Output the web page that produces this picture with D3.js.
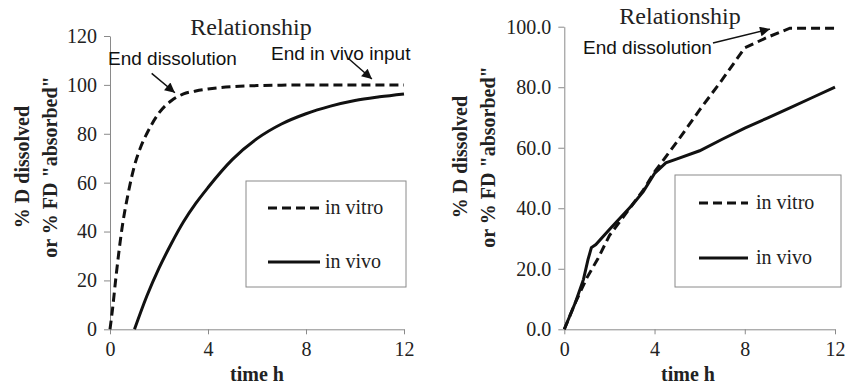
<!DOCTYPE html>
<html>
<head>
<meta charset="utf-8">
<script src="https://cdn.jsdelivr.net/npm/d3@7"></script>
<style>
  body { margin: 0; background: #fff; }
  svg { display: block; }
  .axis path, .axis line { stroke: #8a8a8a; stroke-width: 1; }
</style>
</head>
<body>
<svg id="chart" width="845" height="386"></svg>
<script>
// left panel: smooth profiles
const leftVitroT = [0, 0.1, 0.25, 0.5, 0.75, 1, 1.25, 1.5, 2, 2.5, 3, 3.5, 4, 5, 6, 7, 8, 10, 12];
const leftVitroY = [0, 8, 22, 42, 56, 67, 74.5, 80, 88.5, 93.5, 96.3, 97.5, 98.3, 99.3, 99.7, 99.9, 100, 100, 100];
const leftVivoT = [1, 1.5, 2, 2.5, 3, 3.5, 4, 5, 6, 7, 8, 9, 10, 11, 12];
const leftVivoY = [0, 13.5, 25, 35, 44, 51.5, 58, 69.5, 78, 84, 88.2, 91.3, 93.6, 95.1, 96.3];

// right panel: piecewise profiles
const rightVitroT = [0, 0.5, 1, 1.5, 2, 2.5, 3, 3.5, 4, 5, 6, 7, 8, 9, 10, 11, 12];
const rightVitroY = [0, 9, 17, 23.5, 31, 36, 41, 46, 52, 62, 72.5, 82.5, 93, 96.5, 99.5, 99.5, 99.5];
const rightVivoT = [0, 0.5, 0.85, 1.05, 1.2, 1.4, 2, 3, 3.5, 4, 4.5, 5, 6, 7, 8, 9, 10, 11, 12];
const rightVivoY = [0, 9, 16.5, 23, 27, 28, 33, 41, 45.5, 51.5, 55, 56.3, 59, 62.8, 66.5, 69.8, 73.2, 76.6, 80];

const xTicks = [0, 4, 8, 12];
const leftYTicks = [0, 20, 40, 60, 80, 100, 120];
const rightYTicks = [0, 20, 40, 60, 80, 100];
const legendLabels = ["in vitro", "in vivo"];

// annotation arrows in data units: [tailT, tailY, headT, headY]
const leftArrows = [[1.70, 104.7, 2.65, 96.8], [9.72, 110.9, 10.69, 102.4]];
const rightArrows = [[6.59, 94.6, 9.12, 99.2]];

const serif = "'Liberation Serif', 'Times New Roman', serif";
const sans = "'Liberation Sans', Arial, sans-serif";

const svg = d3.select("#chart");

svg.append("defs").append("marker")
    .attr("id", "head")
    .attr("markerUnits", "userSpaceOnUse")
    .attr("viewBox", "0 0 10 10")
    .attr("refX", 10).attr("refY", 5)
    .attr("markerWidth", 12).attr("markerHeight", 10)
    .attr("orient", "auto")
  .append("path")
    .attr("d", "M0,0L10,5L0,10z")
    .attr("fill", "#111");

function styleTicks(g) {
    g.attr("font-family", serif).attr("font-size", 20);
    g.selectAll(".tick text")
        .style("font-family", serif)
        .style("font-size", "20px")
        .attr("fill", "#222");
}

function drawPanel(p) {
    const x = d3.scaleLinear().domain([0, 12]).range([p.x0, p.x1]);
    const y = d3.scaleLinear().domain([0, p.yMax]).range([329.3, p.yTop]);

    svg.append("g")
        .attr("class", "axis")
        .attr("transform", "translate(0,329.3)")
        .call(d3.axisBottom(x).tickValues(xTicks).tickSize(5).tickSizeOuter(0).tickPadding(8))
        .call(styleTicks);

    svg.append("g")
        .attr("class", "axis")
        .attr("transform", `translate(${p.x0},0)`)
        .call(d3.axisLeft(y).tickValues(p.yTicks).tickFormat(d3.format(p.fmt))
            .tickSize(6).tickSizeOuter(0).tickPadding(7))
        .call(styleTicks);

    const line = d3.line().x(d => x(d[0])).y(d => y(d[1])).curve(p.curve);

    svg.append("path")
        .datum(d3.zip(p.vitroT, p.vitroY))
        .attr("d", line)
        .attr("fill", "none")
        .attr("stroke", "#111")
        .attr("stroke-width", 3)
        .attr("stroke-dasharray", "9,5");

    svg.append("path")
        .datum(d3.zip(p.vivoT, p.vivoY))
        .attr("d", line)
        .attr("fill", "none")
        .attr("stroke", "#111")
        .attr("stroke-width", 3);

    // title
    svg.append("text")
        .attr("x", p.titleX).attr("y", p.titleY)
        .attr("text-anchor", "middle")
        .style("font-family", serif)
        .style("font-size", "24px")
        .attr("fill", "#222")
        .text("Relationship");

    // x title
    svg.append("text")
        .attr("x", p.xTitleX).attr("y", 381)
        .attr("text-anchor", "middle")
        .style("font-family", serif)
        .style("font-size", "20px")
        .style("font-weight", "bold")
        .attr("fill", "#222")
        .text("time h");

    // y title, two lines
    const yt = ["% D dissolved", "or % FD \"absorbed\""];
    yt.forEach((s, i) => {
        svg.append("text")
            .attr("transform", `translate(${p.yTitleX[i]},${p.yTitleY}) rotate(-90)`)
            .attr("text-anchor", "middle")
            .style("font-family", serif)
            .style("font-size", "20px")
            .style("font-weight", "bold")
            .attr("fill", "#222")
            .text(s);
    });

    // annotations
    p.notes.forEach(n => {
        svg.append("text")
            .attr("x", n[1]).attr("y", n[2])
            .style("font-family", sans)
            .style("font-size", "19px")
            .attr("fill", "#111")
            .text(n[0]);
    });
    p.arrows.forEach(a => {
        svg.append("line")
            .attr("x1", x(a[0])).attr("y1", y(a[1]))
            .attr("x2", x(a[2])).attr("y2", y(a[3]))
            .attr("stroke", "#111")
            .attr("stroke-width", 1.5)
            .attr("marker-end", "url(#head)");
    });

    // legend
    const lg = p.legend;
    svg.append("rect")
        .attr("x", lg.x).attr("y", lg.y)
        .attr("width", lg.w).attr("height", lg.h)
        .attr("fill", "#fff")
        .attr("stroke", "#8a8a8a")
        .attr("stroke-width", 1);
    legendLabels.forEach((s, i) => {
        const ly = lg.rowY[i];
        svg.append("line")
            .attr("x1", lg.lx0).attr("x2", lg.lx1)
            .attr("y1", ly).attr("y2", ly)
            .attr("stroke", "#111")
            .attr("stroke-width", 3)
            .attr("stroke-dasharray", i === 0 ? "9,5" : null);
        svg.append("text")
            .attr("x", lg.tx).attr("y", ly + 6)
            .style("font-family", serif)
            .style("font-size", "20px")
            .attr("fill", "#222")
            .text(s);
    });
}

drawPanel({
    x0: 110, x1: 404, yTop: 36, yMax: 120, yTicks: leftYTicks, fmt: "d",
    vitroT: leftVitroT, vitroY: leftVitroY, vivoT: leftVivoT, vivoY: leftVivoY,
    curve: d3.curveMonotoneX,
    titleX: 251, titleY: 35, xTitleX: 257,
    yTitleX: [29, 57], yTitleY: 167,
    notes: [["End dissolution", 108, 65], ["End in vivo input", 271, 60]],
    arrows: leftArrows,
    legend: { x: 246, y: 181, w: 160, h: 106, rowY: [208, 262], lx0: 268, lx1: 320, tx: 325 }
});

drawPanel({
    x0: 564.3, x1: 835, yTop: 26.7, yMax: 100, yTicks: rightYTicks, fmt: ".1f",
    vitroT: rightVitroT, vitroY: rightVitroY, vivoT: rightVivoT, vivoY: rightVivoY,
    curve: d3.curveLinear,
    titleX: 680, titleY: 24, xTitleX: 688,
    yTitleX: [467, 495], yTitleY: 157,
    notes: [["End dissolution", 583, 54]],
    arrows: rightArrows,
    legend: { x: 675, y: 175, w: 166, h: 112, rowY: [203, 258], lx0: 699, lx1: 748, tx: 756 }
});
</script>
</body>
</html>
